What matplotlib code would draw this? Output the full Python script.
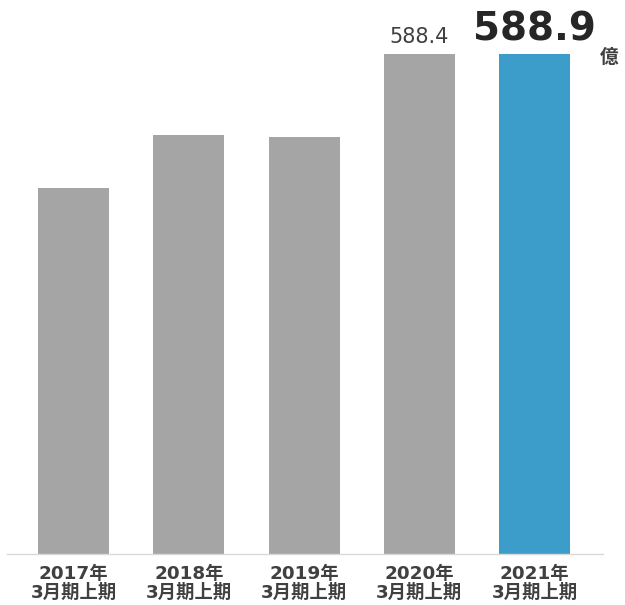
import matplotlib
matplotlib.use('Agg')
import matplotlib.pyplot as plt

plt.rcParams['font.family'] = ['DejaVu Sans', 'Noto Sans CJK JP']

# 売上高（億円）
years = ['2017年', '2018年', '2019年', '2020年', '2021年']
period = '3月期上期'
values = [431.0, 493.0, 491.4, 588.4, 588.9]
colors = ['#a5a5a5', '#a5a5a5', '#a5a5a5', '#a5a5a5', '#3c9dcb']

W, H = 625, 605
fig = plt.figure(figsize=(W / 100, H / 100), dpi=100)
# 軸の範囲: 左右 7..603 px, 下 554 px から上端まで
ax = fig.add_axes([7 / W, 1 - 554 / H, 596 / W, 554 / H])

x = list(range(len(values)))
ax.bar(x, values, width=0.616, color=colors, zorder=2)
ax.set_xlim(-0.577, 4.594)
ax.set_ylim(0, 554 / 0.8493)

for s in ['top', 'right', 'left']:
    ax.spines[s].set_visible(False)
ax.spines['bottom'].set_color('#d9d9d9')
ax.spines['bottom'].set_linewidth(1.0)
ax.set_yticks([])
ax.set_xticks(x)
ax.set_xticklabels([f'{y}\n{period}' for y in years], fontsize=13.2,
                   fontweight='bold', color='#404040', linespacing=1.02)
ax.tick_params(axis='x', length=0, pad=8)

# 前年の値
ax.text(x[3], values[3] + 8, f'{values[3]:.1f}', ha='center', va='bottom',
        fontsize=15, color='#404040')
# 今期の値
ax.text(x[4], values[4] + 6, f'{values[4]:.1f}', ha='center', va='bottom',
        fontsize=28, fontweight='bold', color='#262626')
ax.text(4.647, 585, '億', ha='center', va='center',
        fontsize=13.5, fontweight='bold', color='#404040')

fig.savefig('out.png', dpi=100)
